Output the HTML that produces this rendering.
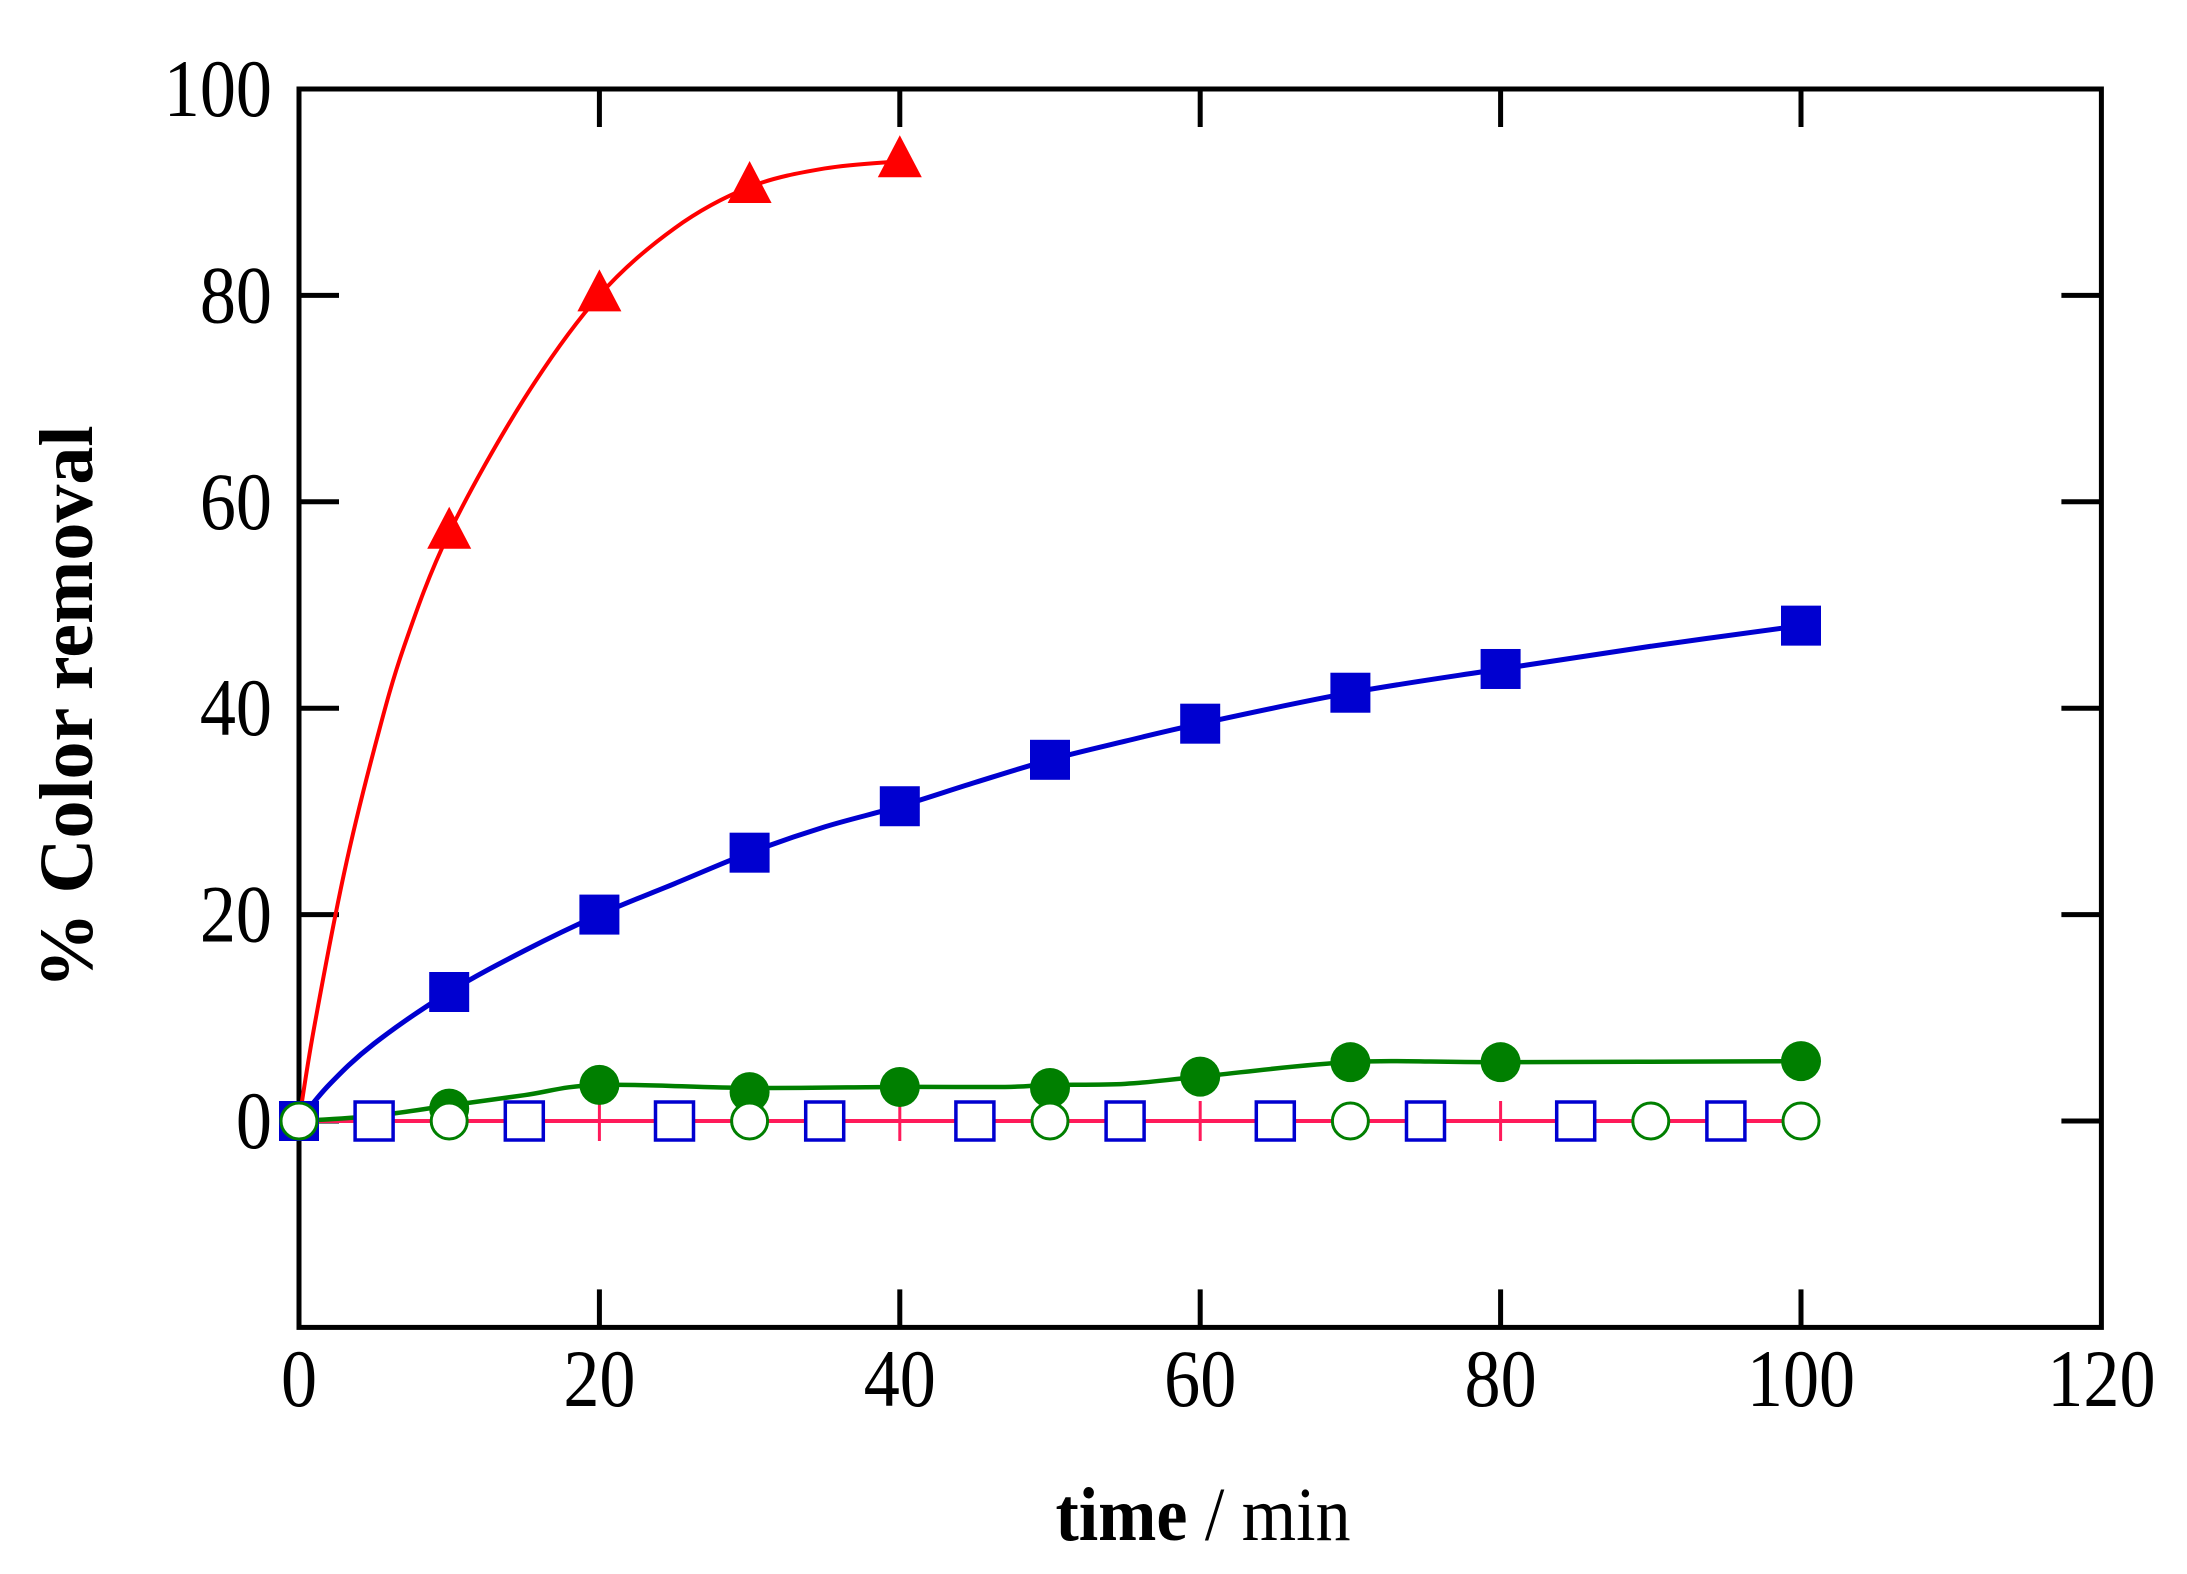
<!DOCTYPE html>
<html><head><meta charset="utf-8"><style>body{margin:0;background:#fff}svg{display:block}</style></head>
<body>
<svg width="2187" height="1574" viewBox="0 0 2187 1574" xmlns="http://www.w3.org/2000/svg" font-family="Liberation Serif, serif">
<g id="g"></g>
</svg>
<script>
const X=v=>299+v*15.02, Y=v=>1121-v*10.32;
let s='';
s+=`<rect x="${X(0)}" y="${Y(100)}" width="${X(120)-X(0)}" height="${Y(-20)-Y(100)}" fill="none" stroke="#000" stroke-width="5"/>`;
for(let v=20;v<120;v+=20){s+=`<line x1="${X(v)}" y1="${Y(-20)}" x2="${X(v)}" y2="${Y(-20)-38}" stroke="#000" stroke-width="5"/><line x1="${X(v)}" y1="${Y(100)}" x2="${X(v)}" y2="${Y(100)+38}" stroke="#000" stroke-width="5"/>`;}
for(let v=0;v<100;v+=20){s+=`<line x1="${X(0)}" y1="${Y(v)}" x2="${X(0)+40}" y2="${Y(v)}" stroke="#000" stroke-width="5"/><line x1="${X(120)}" y1="${Y(v)}" x2="${X(120)-40}" y2="${Y(v)}" stroke="#000" stroke-width="5"/>`;}
for(let v=0;v<=120;v+=20)s+=`<text transform="translate(${X(v)},1406) scale(0.88,1)" font-size="82" text-anchor="middle">${v}</text>`;
for(let v=0;v<=100;v+=20)s+=`<text transform="translate(272,${Y(v)+27}) scale(0.88,1)" font-size="82" text-anchor="end">${v}</text>`;
s+=`<text transform="translate(1203,1540) scale(0.92,1)" font-size="76" text-anchor="middle"><tspan font-weight="bold">time</tspan> / min</text>`;
s+=`<text transform="translate(92,707) rotate(-90)" font-size="76" font-weight="bold" text-anchor="middle">% Color removal</text>`;
s+=`<line x1="${X(0)}" y1="${Y(0)}" x2="${X(100)}" y2="${Y(0)}" stroke="#ff1a5a" stroke-width="4"/>`;
for(const v of [20,40,60,80])s+=`<line x1="${X(v)}" y1="${Y(0)-20}" x2="${X(v)}" y2="${Y(0)+20}" stroke="#ff1a5a" stroke-width="3"/>`;
const curve=(pts)=>{let d=`M${X(pts[0][0])},${Y(pts[0][1])}`;for(let i=0;i<pts.length-1;i++){const p0=pts[Math.max(0,i-1)],p1=pts[i],p2=pts[i+1],p3=pts[Math.min(pts.length-1,i+2)];const c1=[p1[0]+(p2[0]-p0[0])/6,p1[1]+(p2[1]-p0[1])/6],c2=[p2[0]-(p3[0]-p1[0])/6,p2[1]-(p3[1]-p1[1])/6];d+=` C${X(c1[0])},${Y(c1[1])} ${X(c2[0])},${Y(c2[1])} ${X(p2[0])},${Y(p2[1])}`;}return d;};
const red=[[0,0],[1,9],[3,24],[5,36],[7,46],[10,57],[15,70],[20,80],[25,86.5],[30,90.5],[35,92.3],[40,93]];
const blue=[[0,0],[2,3.5],[5,7.5],[10,12.5],[15,16.5],[20,20],[25,23],[30,26],[35,28.5],[40,30.5],[45,32.8],[50,35],[55,36.8],[60,38.5],[70,41.5],[80,43.8],[90,46],[100,48]];
const green=[[0,0],[5,0.5],[10,1.5],[15,2.5],[20,3.5],[30,3.2],[40,3.3],[47,3.3],[50,3.5],[55,3.6],[60,4.3],[70,5.7],[80,5.7],[100,5.8]];
s+=`<path d="${curve(green)}" fill="none" stroke="#007f00" stroke-width="4.5"/>`;
s+=`<path d="${curve(blue)}" fill="none" stroke="#0000d0" stroke-width="5"/>`;
s+=`<path d="${curve(red)}" fill="none" stroke="#ff0000" stroke-width="4"/>`;
for(const p of [[0,0],[10,1.2],[20,3.5],[30,2.8],[40,3.3],[50,3.2],[60,4.3],[70,5.7],[80,5.7],[100,5.8]])s+=`<circle cx="${X(p[0])}" cy="${Y(p[1])}" r="20" fill="#007f00"/>`;
for(const p of [[0,0],[10,12.5],[20,20],[30,26],[40,30.5],[50,35],[60,38.5],[70,41.5],[80,43.8],[100,48]])s+=`<rect x="${X(p[0])-20}" y="${Y(p[1])-20}" width="40" height="40" fill="#0000d0"/>`;
for(const p of [[10,57],[20,80],[30,90.5],[40,93]])s+=`<polygon points="${X(p[0])},${Y(p[1])-26} ${X(p[0])-22},${Y(p[1])+16} ${X(p[0])+22},${Y(p[1])+16}" fill="#ff0000"/>`;
for(const v of [5,15,25,35,45,55,65,75,85,95])s+=`<rect x="${X(v)-19}" y="${Y(0)-19}" width="38" height="38" fill="#fff" stroke="#0000d0" stroke-width="3.5"/>`;
for(const v of [0,10,30,50,70,90,100])s+=`<circle cx="${X(v)}" cy="${Y(0)}" r="18" fill="#fff" stroke="#007f00" stroke-width="3"/>`;
document.getElementById('g').innerHTML=s;
</script>
</body></html>
